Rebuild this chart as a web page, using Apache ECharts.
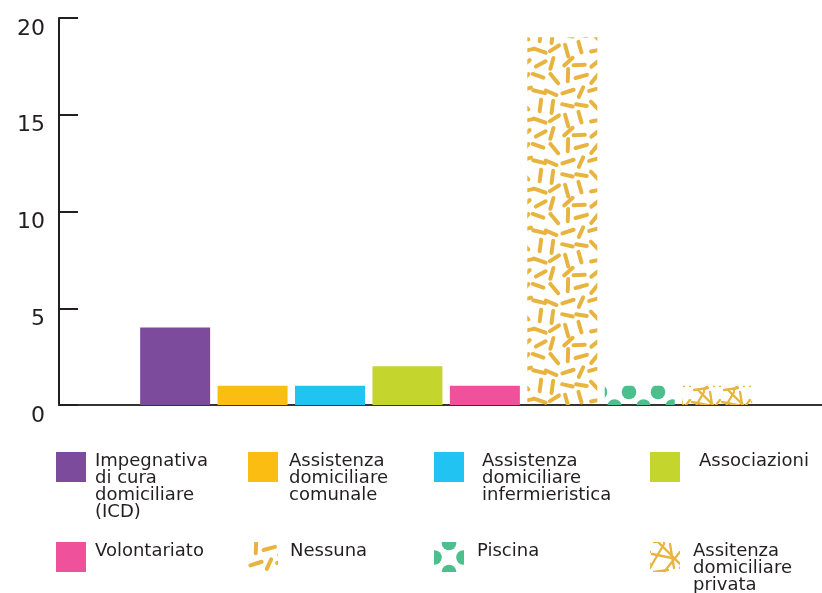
<!DOCTYPE html>
<html>
<head>
<meta charset="utf-8">
<script src="https://cdn.jsdelivr.net/npm/echarts@6/dist/echarts.min.js"></script>
<style>
html,body{margin:0;padding:0;background:#fff;}
#chart{width:822px;height:593px;}
</style>
</head>
<body>
<div id="chart"></div>
<script>
// ---- data ----
const seriesNames = [
  'Impegnativa di cura domiciliare (ICD)',
  'Assistenza domiciliare comunale',
  'Assistenza domiciliare infermieristica',
  'Associazioni',
  'Volontariato',
  'Nessuna',
  'Piscina',
  'Assitenza domiciliare privata'
];
const legendLabels = [
  'Impegnativa\ndi cura\ndomiciliare\n(ICD)',
  'Assistenza\ndomiciliare\ncomunale',
  'Assistenza\ndomiciliare\ninfermieristica',
  'Associazioni',
  'Volontariato',
  'Nessuna',
  'Piscina',
  'Assitenza\ndomiciliare\nprivata'
];
const values = [4, 1, 1, 2, 1, 19, 1, 1];
const categories = [''].concat(seriesNames).concat(['']);
const yTicks = [0, 5, 10, 15, 20];

// ---- patterns (decoration only) ----
const YEL = '#e8b440';
const GRN = '#4dbf8c';
function tile(w, h, draw) {
  const c = document.createElement('canvas');
  c.width = w; c.height = h;
  draw(c.getContext('2d'), w, h);
  return c;
}
function hash(k) { const s = Math.sin(k * 12.9898 + 78.233) * 43758.5453; return s - Math.floor(s); }
function dashTile() {
  const N = 5, S = 14, W = N * S;
  return tile(W, W, (ctx, w, h) => {
    ctx.strokeStyle = YEL; ctx.lineWidth = 4; ctx.lineCap = 'round';
    for (let k = 0; k < N * N; k++) {
      const r = Math.floor(k / N), c = k % N;
      const cx = S / 2 + S * c + (hash(k + 1) - 0.5) * 4;
      const cy = S / 2 + S * r + (hash(k + 101) - 0.5) * 4;
      const a = hash(k + 201) * Math.PI;
      const L = 5.2 + hash(k + 301) * 1.0;
      for (const ox of [-w, 0, w]) for (const oy of [-h, 0, h]) {
        ctx.beginPath();
        ctx.moveTo(cx + ox - L * Math.cos(a), cy + oy - L * Math.sin(a));
        ctx.lineTo(cx + ox + L * Math.cos(a), cy + oy + L * Math.sin(a));
        ctx.stroke();
      }
    }
  });
}
function dotTile(a, b) {
  return tile(29, 29, (ctx, w, h) => {
    ctx.fillStyle = GRN;
    const pts = [[a, b], [a + 14.5, b + 14.5]];
    for (const p of pts) for (const ox of [-w, 0, w]) for (const oy of [-h, 0, h]) {
      ctx.beginPath();
      ctx.arc(p[0] + ox, p[1] + oy, 7.3, 0, Math.PI * 2);
      ctx.fill();
    }
  });
}
function lineTile() {
  const segs = [[0,26,14,2],[8,0,30,22],[14,30,30,10],[2,12,22,16],[18,28,4,30],[20,2,24,26]];
  return tile(30, 30, (ctx, w, h) => {
    ctx.strokeStyle = YEL; ctx.lineWidth = 2.3; ctx.lineCap = 'round';
    for (const s of segs) for (const ox of [-w, 0, w]) for (const oy of [-h, 0, h]) {
      ctx.beginPath();
      ctx.moveTo(s[0] + ox, s[1] + oy);
      ctx.lineTo(s[2] + ox, s[3] + oy);
      ctx.stroke();
    }
  });
}
const pat = (img) => ({ image: img, repeat: 'repeat' });
const barColors = [
  '#7d4b9c', '#fbbd12', '#21c3f3', '#c4d52e', '#ef519b',
  pat(dashTile()), pat(dotTile(20, 15)), pat(lineTile())
];
const legendColors = barColors.slice();
legendColors[6] = pat(dotTile(15, 1));

// ---- legend layout ----
const iconLeft = [56, 248, 434, 650, 56, 248, 434, 650];
const rowTop = [452, 452, 452, 452, 542, 542, 542, 542];
const textGap = [9, 11, 18, 19, 9, 12, 13, 13];
const LH = 17;
const FONT = 'DejaVu Sans';
const TXT = '#231f20';

const legends = seriesNames.map((name, i) => {
  const lines = legendLabels[i].split('\n');
  const n = lines.length;
  let X, txt, blockH;
  if (n === 1) { X = 12; txt = '{t|' + lines[0] + '}\n{s|}'; }
  else { X = (n - 1) * LH - 12; txt = '{s|}\n' + lines.map(l => '{t|' + l + '}').join('\n'); }
  blockH = X + n * LH;
  const ext = Math.max(0, blockH / 2 - 15);
  return {
    data: [{ name: name, itemStyle: { color: legendColors[i] } }],
    left: iconLeft[i],
    top: rowTop[i] - ext,
    padding: 0,
    itemWidth: 30,
    itemHeight: 30,
    icon: 'rect',
    selectedMode: false,
    formatter: () => txt,
    textStyle: {
      fontFamily: FONT, fontSize: 18, color: TXT,
      rich: {
        t: { fontFamily: FONT, fontSize: 18, lineHeight: LH, color: TXT, padding: [0, 0, 0, textGap[i] - 5] },
        s: { height: X, lineHeight: X, fontSize: 1 }
      }
    }
  };
});

const series = seriesNames.map((name, i) => ({
  name: name,
  type: 'bar',
  barWidth: 70,
  barGap: '-100%',
  itemStyle: { color: barColors[i] },
  data: categories.map((c, j) => (j === i + 1 ? values[i] : '-'))
}));

const chart = echarts.init(document.getElementById('chart'), null, { renderer: 'canvas' });
chart.setOption({
  animation: false,
  backgroundColor: '#fff',
  grid: { left: 59, top: 18, width: 774.3, height: 387, containLabel: false, outerBoundsMode: 'none' },
  xAxis: {
    type: 'category',
    data: categories,
    axisLine: { show: true, lineStyle: { color: '#333', width: 2 } },
    axisTick: { show: false },
    axisLabel: { show: false },
    splitLine: { show: false }
  },
  yAxis: {
    type: 'value',
    min: yTicks[0],
    max: yTicks[yTicks.length - 1],
    interval: 5,
    axisLine: { show: true, lineStyle: { color: TXT, width: 2 } },
    axisTick: { show: true, inside: true, length: 19, lineStyle: { color: TXT, width: 2 } },
    axisLabel: { fontFamily: FONT, fontSize: 22, color: TXT, margin: 14, verticalAlign: 'top', lineHeight: 22 },
    splitLine: { show: false }
  },
  legend: legends,
  series: series
});
</script>
</body>
</html>
